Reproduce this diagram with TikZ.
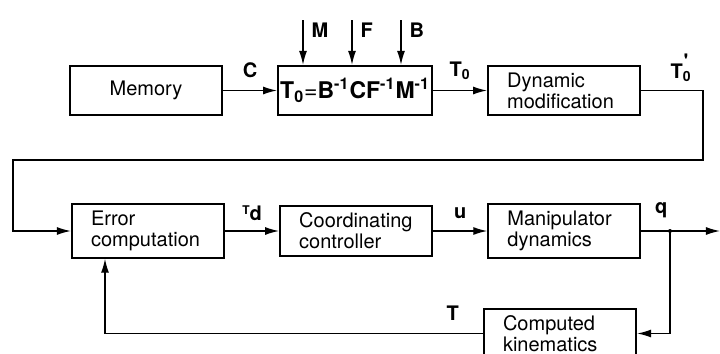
\documentclass[tikz,border=0pt]{standalone}
\usepackage{fontspec}
\setmainfont{TeX Gyre Heros}
\usetikzlibrary{arrows.meta,positioning}

\begin{document}
\begin{tikzpicture}[x=0.5pt, y=-0.5pt, >={Latex[length=7pt,width=4pt]},
    node distance=27pt, line width=0.7pt,
    block/.style={draw, line width=1.1pt, text width=57pt, inner xsep=9.5pt,
      minimum height=24.5pt, align=left, font=\fontsize{10}{10.5}\selectfont},
    formbox/.style={draw, line width=1.1pt, minimum width=76pt,
      minimum height=24.5pt, inner sep=1pt, font=\bfseries\fontsize{11.5}{12}\selectfont},
    sig/.style={font=\bfseries\fontsize{10}{11}\selectfont, inner sep=1pt}]
  \useasboundingbox (0,0) rectangle (720,354);

  % top row
  \node[block, align=center] (mem) at (146,90.5) {Memory};
  \node[formbox, right=of mem] (form)
    {T\textsubscript{0}{\mdseries=}B\textsuperscript{-1}CF\textsuperscript{-1}M\textsuperscript{-1}};
  \node[block, right=of form] (dyn) {Dynamic\\modification};

  % bottom rows
  \node[block] (err) at (148,231) {Error\\computation};
  \node[block, right=of err] (coord) {Coordinating\\controller};
  \node[block, right=of coord] (manip) {Manipulator\\dynamics};
  \node[block] (comp) at (560,333.5) {Computed\\kinematics};

  % inputs to the formula box
  \coordinate (inM) at (303,20);
  \coordinate (inF) at (352,20);
  \coordinate (inB) at (401,20);
  \draw[->] (inM) node[sig, anchor=north west, xshift=3pt] {M} -- (inM |- form.north);
  \draw[->] (inF) node[sig, anchor=north west, xshift=3pt] {F} -- (inF |- form.north);
  \draw[->] (inB) node[sig, anchor=north west, xshift=3pt] {B} -- (inB |- form.north);

  \draw[->] (mem) -- (form) node[sig, midway, above=5pt] {C};
  \draw[->] (form) -- (dyn) node[sig, midway, above=4pt] {T\textsubscript{0}};

  % long return to the error block
  \coordinate (turnA) at (703,160);
  \coordinate (turnB) at (13,160);
  \draw[->] (dyn) -- (dyn -| turnA)
      node[sig, above left=3pt and 6pt] {T\textsubscript{0}\kern-4pt\raisebox{5pt}{\textquotesingle}}
    -- (turnA) -- (turnB) |- (err);

  \draw[->] (err) -- (coord)
    node[sig, midway, above=4pt] {\raisebox{3pt}{\fontsize{6}{6}\selectfont T}d};
  \draw[->] (coord) -- (manip) node[sig, midway, above=5pt] {u};

  % output and kinematics feedback
  \coordinate (split) at (670,231);
  \coordinate (out) at (720,231);
  \coordinate (fbk) at (105,333.5);
  \draw (manip) -- (split) node[sig, above left=5pt and 0pt] {q};
  \draw[->] (split) -- (out);
  \fill (split) circle (2);
  \draw[->] (split) |- (comp);
  \draw[->] (comp) -- (fbk) node[sig, pos=0.08, above=5pt] {T} -- (err.south -| fbk);
\end{tikzpicture}
\end{document}
